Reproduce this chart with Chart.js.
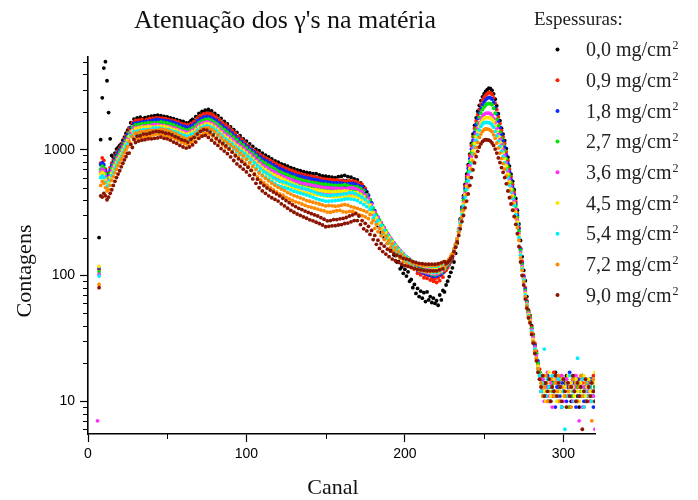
<!DOCTYPE html>
<html>
<head>
<meta charset="utf-8">
<script src="https://cdn.jsdelivr.net/npm/chart.js@4.4.1/dist/chart.umd.min.js"></script>
<style>
  html, body { margin: 0; padding: 0; background: #fff; }
</style>
</head>
<body>
<canvas id="chart" width="698" height="500"></canvas>
<script>
// canais 6..320
const canais = Array.from({ length: 315 }, (_, i) => 6 + i);

const espessuras = ['0,0', '0,9', '1,8', '2,7', '3,6', '4,5', '5,4', '7,2', '9,0'];
const cores = ['#000000', '#ff1e00', '#0a2aff', '#00e600', '#ff30ff', '#ffe800', '#00f0ff', '#ff8a00', '#8a1400'];

const contagens00 = [
  null, 200, 1200, 2580, 4450, 5000, 3530, 1970, 1220, 900,
  870, 940, 1010, 1040, 1080, 1110, 1190, 1260, 1350, 1430,
  1490, 1640, 1620, 1750, 1660, 1790, 1700, 1810, 1710, 1760,
  1800, 1740, 1820, 1770, 1850, 1780, 1860, 1810, 1880, 1790,
  1860, 1800, 1840, 1770, 1820, 1750, 1790, 1720, 1760, 1690,
  1730, 1670, 1700, 1630, 1680, 1590, 1630, 1600, 1650, 1700,
  1740, 1700, 1830, 1810, 1940, 1890, 2010, 1960, 2060, 1990,
  2090, 1980, 2030, 1900, 1940, 1820, 1860, 1730, 1770, 1650,
  1680, 1580, 1600, 1490, 1520, 1420, 1440, 1350, 1370, 1270,
  1290, 1210, 1220, 1130, 1170, 1070, 1110, 1020, 1060, 980,
  1010, 940, 980, 905, 940, 870, 905, 840, 875, 815,
  845, 780, 815, 760, 795, 745, 770, 725, 755, 710,
  740, 690, 720, 675, 705, 665, 690, 650, 680, 640,
  670, 630, 660, 630, 655, 615, 645, 605, 645, 600,
  630, 595, 620, 590, 615, 585, 610, 580, 605, 575,
  600, 570, 610, 565, 615, 570, 625, 565, 610, 560,
  605, 555, 585, 545, 575, 535, 545, 500, 505, 460,
  462, 410, 398, 342, 318, 284, 276, 249, 246, 220,
  221, 199, 201, 180, 181, 163, 163, 146, 144, 128,
  129, 113, 117, 104, 112, 99, 107, 90, 93, 80,
  85, 72, 79, 68, 75, 66, 73, 62, 74, 64,
  68, 61, 66, 60, 63, 58, 70, 64, 76, 74,
  84, 90, 98, 106, 115, 128, 150, 180, 225, 280,
  350, 431, 530, 640, 760, 920, 1120, 1330, 1560, 1790,
  2020, 2250, 2450, 2630, 2780, 2900, 3000, 3080, 3060, 2960,
  2780, 2520, 2230, 1930, 1700, 1480, 1330, 1180, 1020, 870,
  740, 640, 560, 480, 410, 330, 257, 190, 141, 110,
  91, 68, 53, 48, 40, 34, 28, 24, 19, 17,
  15, 12, 14, 11, 16, 13, 10, 14, 12, 17,
  11, 13, 15, 9, 12, 14, 16, 11, 13, 10,
  15, 12, 14, 11, 9, 13, 16, 12, 10, 14,
  11, 13, 15, 12, 10
];

const contagens09 = [
  null, 112, 780, 860, 820, 700, 640, 660, 720, 780,
  830, 880, 930, 980, 1030, 1080, 1140, 1220, 1290, 1370,
  1480, 1500, 1640, 1600, 1710, 1620, 1720, 1640, 1740, 1660,
  1680, 1740, 1700, 1770, 1690, 1780, 1700, 1800, 1710, 1790,
  1720, 1780, 1710, 1760, 1690, 1740, 1660, 1720, 1630, 1690,
  1600, 1660, 1570, 1620, 1520, 1590, 1500, 1580, 1520, 1620,
  1570, 1680, 1660, 1790, 1750, 1870, 1810, 1920, 1860, 1950,
  1880, 1940, 1840, 1890, 1770, 1820, 1700, 1730, 1610, 1640,
  1530, 1580, 1460, 1500, 1380, 1420, 1310, 1350, 1240, 1270,
  1170, 1210, 1110, 1140, 1050, 1080, 1000, 1030, 955, 980,
  915, 945, 880, 910, 845, 875, 815, 850, 790, 820,
  770, 795, 745, 770, 720, 750, 700, 730, 680, 710,
  665, 695, 645, 680, 635, 665, 620, 650, 610, 640,
  600, 630, 590, 620, 585, 615, 575, 605, 570, 600,
  565, 590, 560, 585, 555, 580, 545, 580, 540, 575,
  540, 575, 535, 570, 540, 565, 545, 560, 540, 565,
  530, 565, 525, 560, 525, 545, 510, 530, 485, 492,
  440, 435, 390, 375, 322, 318, 283, 282, 253, 254,
  229, 231, 209, 211, 189, 193, 175, 177, 160, 162,
  148, 151, 139, 143, 131, 136, 124, 128, 117, 121,
  112, 115, 104, 109, 101, 105, 96, 101, 95, 100,
  92, 95, 90, 94, 88, 96, 91, 100, 97, 107,
  110, 115, 122, 128, 135, 150, 168, 190, 230, 280,
  345, 420, 510, 610, 740, 900, 1080, 1270, 1480, 1690,
  1900, 2100, 2290, 2450, 2600, 2710, 2790, 2850, 2820, 2750,
  2580, 2340, 2080, 1820, 1610, 1420, 1260, 1120, 960, 820,
  700, 610, 530, 460, 385, 310, 240, 165, 130, 100,
  80, 63, 52, 47, 39, 34, 29, 25, 20, 18,
  13, 16, 12, 14, 10, 15, 13, 11, 17, 12,
  14, 10, 13, 16, 12, 11, 15, 13, 9, 14,
  12, 16, 10, 13, 15, 11, 14, 9, 13, 12,
  14, 10, 12, 16, 13
];

const contagens18 = [
  null, 115, 760, 790, 760, 680, 620, 640, 690, 750,
  800, 850, 900, 950, 990, 1040, 1100, 1170, 1240, 1320,
  1350, 1500, 1490, 1620, 1550, 1630, 1570, 1650, 1590, 1670,
  1600, 1680, 1620, 1690, 1610, 1720, 1620, 1740, 1630, 1730,
  1650, 1720, 1640, 1700, 1620, 1690, 1590, 1660, 1560, 1630,
  1530, 1600, 1490, 1560, 1450, 1530, 1420, 1510, 1440, 1550,
  1490, 1600, 1560, 1690, 1640, 1760, 1700, 1810, 1740, 1840,
  1740, 1820, 1700, 1770, 1640, 1710, 1570, 1630, 1490, 1550,
  1420, 1490, 1360, 1420, 1300, 1350, 1240, 1285, 1170, 1220,
  1110, 1160, 1055, 1100, 1005, 1050, 955, 1000, 915, 955,
  870, 910, 830, 870, 790, 835, 765, 810, 740, 785,
  716, 758, 694, 733, 671, 711, 653, 693, 636, 675,
  622, 658, 608, 643, 588, 628, 578, 618, 569, 612,
  563, 601, 555, 596, 549, 586, 545, 581, 535, 576,
  530, 565, 525, 560, 520, 555, 515, 550, 510, 545,
  510, 545, 502, 544, 506, 539, 510, 535, 505, 539,
  497, 539, 492, 534, 491, 518, 477, 508, 457, 477,
  425, 436, 381, 379, 323, 327, 285, 291, 256, 262,
  232, 239, 210, 216, 191, 197, 176, 182, 162, 168,
  150, 157, 140, 148, 133, 140, 126, 133, 120, 127,
  115, 122, 110, 118, 107, 115, 104, 113, 102, 111,
  100, 109, 98, 109, 99, 110, 101, 113, 105, 119,
  117, 120, 126, 133, 140, 155, 172, 195, 235, 280,
  340, 410, 490, 585, 710, 850, 1010, 1190, 1380, 1580,
  1770, 1960, 2120, 2270, 2390, 2490, 2560, 2600, 2580, 2520,
  2360, 2150, 1920, 1690, 1500, 1330, 1180, 1050, 910, 780,
  670, 580, 505, 440, 370, 300, 235, 162, 125, 98,
  78, 62, 51, 46, 38, 33, 28, 24, 21, 17,
  12, 15, 11, 14, 16, 10, 13, 15, 12, 9,
  13, 16, 11, 14, 12, 15, 10, 13, 17, 11,
  14, 12, 9, 15, 11, 13, 16, 10, 12, 14,
  12, 15, 11, 9, 13
];

const contagens27 = [
  null, 107, 700, 740, 720, 640, 590, 600, 650, 710,
  760, 810, 860, 900, 950, 1000, 1060, 1120, 1190, 1260,
  1370, 1360, 1510, 1460, 1570, 1470, 1590, 1490, 1610, 1510,
  1620, 1520, 1640, 1530, 1630, 1560, 1640, 1570, 1640, 1560,
  1660, 1550, 1650, 1530, 1630, 1520, 1600, 1490, 1570, 1460,
  1540, 1430, 1500, 1390, 1460, 1360, 1430, 1340, 1450, 1380,
  1490, 1420, 1560, 1510, 1640, 1580, 1700, 1630, 1740, 1660,
  1750, 1640, 1710, 1590, 1650, 1530, 1580, 1450, 1510, 1380,
  1440, 1320, 1380, 1260, 1320, 1200, 1260, 1140, 1200, 1085,
  1135, 1035, 1085, 985, 1035, 940, 985, 895, 940, 850,
  895, 810, 850, 770, 805, 735, 780, 710, 752, 686,
  726, 662, 701, 640, 676, 620, 660, 605, 643, 590,
  630, 580, 614, 565, 604, 556, 588, 541, 578, 532,
  571, 527, 562, 517, 552, 512, 547, 507, 542, 502,
  537, 497, 531, 494, 531, 488, 526, 483, 523, 483,
  519, 478, 521, 481, 521, 478, 526, 473, 519, 478,
  511, 478, 505, 473, 505, 462, 492, 449, 471, 423,
  438, 391, 401, 348, 344, 300, 304, 271, 276, 244,
  250, 222, 227, 201, 206, 184, 190, 169, 175, 157,
  164, 147, 153, 137, 144, 130, 138, 125, 131, 119,
  126, 115, 122, 111, 119, 108, 116, 106, 114, 104,
  112, 102, 111, 101, 111, 103, 113, 106, 117, 112,
  119, 122, 128, 135, 142, 156, 174, 195, 232, 275,
  330, 395, 470, 560, 670, 800, 950, 1110, 1280, 1460,
  1630, 1800, 1950, 2080, 2180, 2260, 2310, 2330, 2320, 2270,
  2130, 1950, 1750, 1550, 1380, 1230, 1100, 980, 850, 730,
  630, 550, 480, 420, 355, 290, 225, 158, 122, 95,
  76, 61, 51, 46, 38, 33, 27, 24, 20, 17,
  14, 11, 16, 12, 13, 10, 15, 12, 14, 11,
  16, 12, 10, 13, 15, 11, 14, 12, 9, 13,
  11, 15, 13, 10, 14, 12, 16, 11, 13, 10,
  15, 12, 14, 11, 13
];

const contagens36 = [
  7, 102, 660, 700, 680, 610, 560, 570, 620, 680,
  730, 775, 820, 865, 910, 960, 1020, 1080, 1140, 1210,
  1240, 1380, 1360, 1490, 1420, 1500, 1440, 1520, 1460, 1540,
  1460, 1540, 1480, 1550, 1470, 1580, 1470, 1590, 1470, 1570,
  1490, 1560, 1480, 1540, 1460, 1530, 1430, 1500, 1400, 1480,
  1380, 1450, 1340, 1410, 1310, 1390, 1280, 1370, 1300, 1410,
  1340, 1450, 1400, 1530, 1480, 1600, 1530, 1640, 1570, 1670,
  1580, 1650, 1540, 1600, 1480, 1540, 1410, 1460, 1340, 1390,
  1270, 1330, 1215, 1275, 1160, 1210, 1105, 1155, 1050, 1100,
  1005, 1055, 960, 1010, 915, 965, 870, 920, 825, 870,
  785, 826, 743, 782, 700, 745, 675, 720, 650, 695,
  628, 672, 607, 650, 586, 630, 570, 614, 555, 598,
  542, 588, 530, 574, 518, 563, 508, 553, 498, 542,
  491, 537, 484, 529, 479, 525, 474, 517, 467, 512,
  462, 506, 458, 502, 455, 498, 452, 496, 450, 494,
  450, 494, 452, 492, 450, 494, 456, 490, 452, 496,
  446, 496, 442, 492, 440, 477, 429, 464, 410, 438,
  383, 409, 354, 367, 306, 319, 276, 290, 251, 262,
  226, 238, 206, 216, 187, 198, 172, 182, 159, 169,
  148, 158, 140, 149, 131, 141, 125, 135, 120, 129,
  115, 124, 112, 121, 109, 119, 107, 117, 105, 116,
  104, 114, 103, 114, 103, 115, 105, 118, 110, 124,
  121, 125, 131, 138, 145, 158, 176, 195, 230, 270,
  320, 380, 450, 530, 630, 750, 880, 1030, 1180, 1340,
  1490, 1630, 1750, 1850, 1910, 1940, 1950, 1950, 1930, 1880,
  1780, 1640, 1480, 1330, 1210, 1100, 1000, 900, 790, 675,
  580, 510, 450, 395, 335, 275, 215, 152, 118, 95,
  74, 60, 50, 45, 37, 32, 27, 23, 19, 16,
  12, 15, 10, 13, 17, 11, 14, 9, 12, 15,
  11, 14, 12, 16, 10, 13, 15, 11, 12, 14,
  10, 13, 16, 12, 7, 14, 9, 13, 15, 11,
  12, 10, 14, 11, 6
];

const contagens45 = [
  null, 118, 640, 660, 640, 580, 540, 550, 600, 650,
  700, 745, 790, 835, 880, 930, 990, 1050, 1110, 1180,
  1280, 1260, 1410, 1360, 1470, 1370, 1490, 1390, 1510, 1410,
  1510, 1410, 1530, 1420, 1520, 1450, 1520, 1460, 1530, 1440,
  1540, 1430, 1530, 1410, 1510, 1400, 1480, 1370, 1450, 1350,
  1430, 1320, 1390, 1280, 1360, 1260, 1330, 1240, 1350, 1280,
  1390, 1310, 1440, 1380, 1510, 1450, 1560, 1490, 1600, 1520,
  1610, 1500, 1570, 1450, 1510, 1390, 1440, 1310, 1370, 1240,
  1295, 1185, 1240, 1130, 1185, 1080, 1125, 1025, 1075, 975,
  1028, 935, 985, 895, 942, 852, 895, 808, 848, 762,
  802, 724, 761, 685, 720, 654, 693, 628, 666, 603,
  644, 587, 628, 572, 611, 556, 594, 541, 578, 525,
  562, 512, 548, 498, 533, 486, 521, 474, 508, 462,
  499, 456, 493, 450, 486, 446, 482, 442, 478, 438,
  474, 434, 470, 430, 466, 427, 464, 425, 462, 423,
  463, 423, 467, 424, 466, 426, 471, 421, 468, 428,
  461, 428, 458, 424, 456, 412, 442, 399, 423, 377,
  396, 353, 364, 318, 317, 280, 288, 256, 263, 234,
  240, 213, 220, 195, 200, 179, 186, 165, 171, 153,
  160, 144, 151, 135, 142, 128, 136, 122, 130, 117,
  126, 113, 123, 111, 121, 109, 119, 108, 118, 107,
  117, 105, 116, 105, 116, 106, 118, 109, 123, 115,
  123, 127, 133, 140, 147, 160, 177, 195, 228, 265,
  315, 370, 440, 510, 600, 710, 835, 980, 1120, 1270,
  1400, 1530, 1640, 1720, 1770, 1800, 1800, 1795, 1780, 1740,
  1660, 1540, 1400, 1270, 1150, 1050, 950, 850, 745, 640,
  555, 485, 430, 375, 320, 265, 208, 148, 115, 93,
  72, 59, 49, 44, 36, 31, 26, 22, 19, 16,
  13, 16, 12, 10, 14, 17, 11, 13, 15, 12,
  10, 14, 12, 15, 11, 13, 9, 16, 12, 14,
  13, 11, 15, 12, 10, 14, 12, 16, 11, 13,
  15, 12, 10, 14, 17
];

const contagens54 = [
  null, 99, 600, 620, 600, 550, 510, 520, 570, 620,
  660, 705, 750, 795, 840, 890, 950, 1010, 1070, 1130,
  1150, 1290, 1270, 1390, 1320, 1400, 1340, 1420, 1360, 1440,
  1360, 1440, 1380, 1450, 1370, 1480, 1370, 1490, 1380, 1480,
  1400, 1470, 1390, 1450, 1370, 1440, 1340, 1410, 1310, 1390,
  1290, 1360, 1250, 1320, 1220, 1300, 1190, 1280, 1210, 1320,
  1250, 1350, 1300, 1420, 1370, 1490, 1420, 1530, 1450, 1550,
  1460, 1530, 1420, 1480, 1360, 1420, 1290, 1340, 1220, 1270,
  1160, 1210, 1110, 1160, 1065, 1110, 1010, 1060, 960, 1010,
  918, 968, 878, 928, 838, 882, 792, 836, 748, 790,
  708, 746, 668, 706, 630, 672, 606, 648, 582, 624,
  560, 600, 538, 578, 517, 563, 509, 555, 500, 547,
  491, 535, 479, 522, 467, 512, 459, 504, 451, 496,
  444, 488, 436, 480, 428, 470, 418, 460, 408, 450,
  401, 443, 395, 437, 389, 433, 390, 432, 391, 437,
  393, 437, 397, 440, 399, 444, 404, 446, 407, 456,
  405, 456, 401, 446, 394, 433, 380, 419, 366, 401,
  352, 383, 335, 347, 286, 301, 259, 274, 236, 250,
  216, 228, 198, 208, 182, 192, 168, 177, 156, 165,
  146, 155, 138, 147, 130, 140, 124, 134, 119, 129,
  114, 125, 112, 123, 110, 121, 109, 120, 108, 119,
  107, 118, 106, 118, 106, 119, 109, 123, 114, 128,
  125, 128, 134, 141, 148, 162, 178, 195, 225, 260,
  305, 355, 420, 485, 565, 670, 785, 920, 1050, 1190,
  1310, 1430, 1530, 1600, 1640, 1650, 1645, 1640, 1620, 1570,
  1510, 1400, 1290, 1170, 1060, 970, 880, 790, 695, 600,
  520, 460, 410, 360, 305, 255, 200, 145, 113, 92,
  70, 58, 48, 43, 36, 30, 26, 22, 18, 16,
  12, 14, 26, 11, 15, 13, 10, 16, 12, 14,
  11, 15, 13, 9, 12, 6, 14, 11, 16, 13,
  12, 10, 14, 22, 11, 13, 15, 9, 12, 14,
  11, 13, 10, 15, 12
];

const contagens72 = [
  null, 85, 520, 560, 540, 500, 470, 480, 520, 570,
  610, 655, 700, 745, 790, 840, 890, 945, 1000, 1055,
  1160, 1110, 1280, 1200, 1350, 1220, 1370, 1240, 1390, 1260,
  1400, 1270, 1420, 1280, 1420, 1310, 1420, 1330, 1430, 1320,
  1450, 1310, 1440, 1290, 1420, 1280, 1390, 1250, 1360, 1220,
  1330, 1190, 1290, 1150, 1250, 1120, 1220, 1100, 1240, 1140,
  1270, 1170, 1330, 1240, 1400, 1300, 1460, 1340, 1490, 1350,
  1490, 1330, 1450, 1280, 1390, 1210, 1310, 1150, 1240, 1090,
  1180, 1045, 1135, 1005, 1090, 965, 1040, 915, 990, 875,
  940, 830, 895, 785, 840, 735, 785, 685, 735, 645,
  695, 608, 652, 575, 620, 546, 592, 522, 565, 500,
  542, 479, 520, 461, 502, 446, 486, 435, 473, 418,
  456, 406, 444, 395, 431, 385, 423, 378, 414, 370,
  405, 361, 394, 353, 389, 348, 382, 343, 376, 337,
  370, 331, 364, 326, 357, 319, 360, 318, 358, 323,
  355, 327, 357, 329, 362, 321, 366, 319, 362, 323,
  353, 323, 347, 315, 342, 304, 334, 299, 328, 292,
  320, 283, 305, 262, 273, 237, 254, 223, 237, 207,
  221, 193, 206, 180, 191, 167, 179, 156, 166, 144,
  155, 137, 147, 129, 139, 123, 133, 119, 128, 114,
  125, 112, 123, 110, 121, 109, 120, 108, 120, 108,
  120, 108, 120, 108, 120, 109, 123, 113, 128, 118,
  127, 130, 136, 143, 150, 163, 178, 195, 220, 250,
  290, 330, 385, 440, 505, 600, 700, 810, 920, 1040,
  1140, 1250, 1330, 1400, 1440, 1460, 1455, 1450, 1420, 1390,
  1310, 1230, 1130, 1030, 940, 850, 775, 700, 620, 540,
  470, 420, 375, 330, 285, 240, 190, 138, 110, 89,
  68, 57, 47, 43, 35, 30, 25, 22, 18, 15,
  14, 11, 13, 16, 10, 12, 15, 13, 11, 14,
  12, 16, 10, 13, 15, 11, 14, 12, 13, 9,
  15, 12, 14, 10, 13, 16, 11, 12, 14, 10,
  13, 11, 7, 15, 12
];

const contagens90 = [
  null, 80, 430, 420, 450, 430, 400, 420, 450, 480,
  520, 560, 600, 640, 680, 730, 780, 830, 880, 935,
  940, 1100, 1040, 1210, 1140, 1280, 1170, 1290, 1190, 1330,
  1200, 1330, 1220, 1350, 1220, 1380, 1230, 1400, 1240, 1390,
  1260, 1380, 1230, 1350, 1220, 1340, 1190, 1310, 1150, 1270,
  1120, 1240, 1080, 1200, 1050, 1180, 1030, 1150, 1050, 1210,
  1090, 1250, 1150, 1330, 1230, 1400, 1280, 1440, 1300, 1430,
  1250, 1380, 1190, 1310, 1130, 1230, 1080, 1170, 1020, 1120,
  975, 1070, 930, 1015, 875, 955, 820, 895, 770, 845,
  735, 805, 700, 765, 665, 725, 625, 685, 585, 635,
  540, 583, 498, 546, 470, 519, 450, 496, 430, 477,
  415, 461, 402, 445, 390, 429, 371, 411, 357, 394,
  343, 379, 329, 365, 318, 353, 308, 342, 300, 334,
  292, 325, 285, 317, 277, 310, 272, 303, 265, 297,
  259, 288, 252, 280, 244, 272, 246, 273, 248, 278,
  249, 278, 252, 282, 254, 284, 259, 289, 261, 297,
  267, 303, 273, 310, 273, 297, 254, 273, 235, 260,
  226, 246, 212, 228, 193, 208, 177, 191, 164, 179,
  155, 171, 148, 162, 141, 156, 135, 149, 131, 145,
  127, 141, 123, 137, 120, 135, 118, 133, 116, 129,
  114, 127, 112, 125, 111, 124, 110, 123, 109, 123,
  109, 123, 109, 123, 109, 124, 111, 126, 113, 129,
  124, 127, 131, 136, 142, 155, 168, 185, 208, 235,
  268, 300, 345, 390, 445, 520, 600, 690, 785, 880,
  970, 1050, 1110, 1160, 1190, 1200, 1195, 1190, 1170, 1130,
  1080, 1010, 940, 860, 790, 720, 660, 600, 535, 470,
  415, 370, 330, 295, 255, 215, 170, 128, 100, 84,
  65, 55, 46, 42, 34, 29, 24, 21, 17, 15,
  13, 16, 11, 14, 12, 15, 10, 13, 12, 16,
  11, 14, 13, 10, 15, 12, 9, 14, 11, 13,
  16, 12, 10, 14, 11, 13, 6, 12, 15, 10,
  13, 11, 14, 12, 10
];

const series = [contagens00, contagens09, contagens18, contagens27, contagens36,
                contagens45, contagens54, contagens72, contagens90];

const marcasX = [0, 50, 100, 150, 200, 250, 300];
const marcasY = [6, 7, 8, 9, 10, 20, 30, 40, 50, 60, 70, 80, 90,
                 100, 200, 300, 400, 500, 600, 700, 800, 900,
                 1000, 2000, 3000, 4000, 5000];
const rotulosY = [10, 100, 1000];

function pontos(valores) {
  return valores
    .map((v, i) => (v === null ? null : { x: canais[i], y: v }))
    .filter(p => p !== null);
}

const serif = '"Liberation Serif", "Times New Roman", serif';

// titulo, eixos, marcas menores e legenda
const decoracao = {
  id: 'decoracao',
  afterDraw(chart) {
    const { ctx, chartArea: a, scales } = chart;
    const sx = scales.x, sy = scales.y;
    ctx.save();

    ctx.strokeStyle = '#000';
    ctx.lineWidth = 1;
    ctx.beginPath();
    marcasX.filter(v => v % 100 !== 0).forEach(v => {
      const px = Math.round(sx.getPixelForValue(v)) + 0.5;
      ctx.moveTo(px, a.bottom);
      ctx.lineTo(px, a.bottom + 5);
    });
    marcasY.filter(v => !rotulosY.includes(v)).forEach(v => {
      const py = Math.round(sy.getPixelForValue(v)) + 0.5;
      ctx.moveTo(a.left, py);
      ctx.lineTo(a.left - 5, py);
    });
    ctx.stroke();

    ctx.fillStyle = '#111';
    ctx.textBaseline = 'alphabetic';
    ctx.textAlign = 'center';
    ctx.font = '26px ' + serif;
    ctx.fillText('Atenuação dos γ\'s na matéria', 285, 28);

    ctx.font = '22px ' + serif;
    ctx.fillText('Canal', 333, 494);
    ctx.save();
    ctx.translate(31, 271);
    ctx.rotate(-Math.PI / 2);
    ctx.fillText('Contagens', 0, 0);
    ctx.restore();

    ctx.textAlign = 'left';
    ctx.font = '19px ' + serif;
    ctx.fillStyle = '#222';
    ctx.fillText('Espessuras:', 534, 25);

    chart.data.datasets.forEach((ds, i) => {
      const cy = 49.5 + i * 30.7;
      ctx.fillStyle = ds.backgroundColor;
      ctx.beginPath();
      ctx.arc(557.5, cy, 2, 0, Math.PI * 2);
      ctx.fill();
      ctx.fillStyle = '#222';
      ctx.font = '20px ' + serif;
      const txt = espessuras[i] + ' mg/cm';
      ctx.fillText(txt, 586, cy + 6.7);
      const w = ctx.measureText(txt).width;
      ctx.font = '12px ' + serif;
      ctx.fillText('2', 586 + w + 1, cy - 0.5);
    });

    ctx.restore();
  }
};

const ctx = document.getElementById('chart').getContext('2d');
new Chart(ctx, {
  type: 'scatter',
  data: {
    datasets: series.map((valores, i) => ({
      label: espessuras[i] + ' mg/cm²',
      data: pontos(valores),
      backgroundColor: cores[i],
      borderColor: cores[i],
      borderWidth: 0,
      pointRadius: 1.9,
      pointHoverRadius: 1.9,
      showLine: false,
      order: series.length - i
    }))
  },
  options: {
    responsive: false,
    devicePixelRatio: 1,
    animation: false,
    events: [],
    layout: { padding: { left: 0, top: 57, right: 103, bottom: 0 } },
    plugins: {
      legend: { display: false },
      title: { display: false },
      tooltip: { enabled: false }
    },
    scales: {
      x: {
        type: 'linear',
        min: 0,
        max: 320,
        afterBuildTicks: s => { s.ticks = marcasX.map(v => ({ value: v })); },
        afterFit: s => { s.height = 66; },
        ticks: {
          autoSkip: false,
          maxRotation: 0,
          padding: 4,
          color: '#000',
          font: { family: '"Liberation Sans", Arial, sans-serif', size: 14 },
          callback: v => (v % 100 === 0 ? String(v) : '')
        },
        grid: {
          drawOnChartArea: false,
          drawTicks: true,
          tickLength: 8,
          tickWidth: 1.2,
          tickColor: c => (c.tick && c.tick.value % 100 === 0 ? '#000' : 'rgba(0,0,0,0)')
        },
        border: { display: true, color: '#000', width: 1.6 }
      },
      y: {
        type: 'logarithmic',
        min: 5.5,
        max: 5450,
        afterBuildTicks: s => { s.ticks = marcasY.map(v => ({ value: v })); },
        afterFit: s => { s.width = 88; },
        ticks: {
          autoSkip: false,
          padding: 5,
          color: '#000',
          font: { family: '"Liberation Sans", Arial, sans-serif', size: 14 },
          callback: v => (rotulosY.includes(v) ? String(v) : '')
        },
        grid: {
          drawOnChartArea: false,
          drawTicks: true,
          tickLength: 8,
          tickWidth: 1.2,
          tickColor: c => (c.tick && rotulosY.includes(c.tick.value) ? '#000' : 'rgba(0,0,0,0)')
        },
        border: { display: true, color: '#000', width: 1.6 }
      }
    }
  },
  plugins: [decoracao]
});
</script>
</body>
</html>
